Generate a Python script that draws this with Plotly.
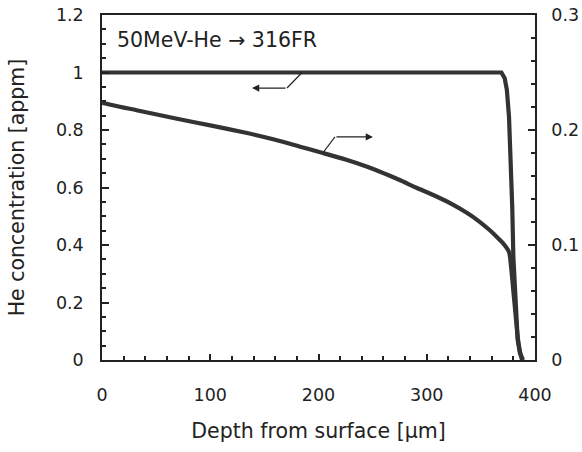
import plotly.graph_objects as go

# He concentration (left axis, appm)
depth_he = [0, 100, 200, 300, 369, 372, 374, 376, 378, 379, 380, 382, 384, 386, 389]
he_conc = [1.0, 1.0, 1.0, 1.0, 1.0, 0.98, 0.94, 0.845, 0.65, 0.53, 0.36, 0.18, 0.07, 0.025, 0.0]

# second profile (right axis)
depth_dpa = [0, 1, 33, 66, 100, 134, 160, 183, 204, 225, 245, 260, 275, 290, 306, 322, 337,
             348, 358, 365, 370, 376, 378, 380, 382, 384, 386, 388]
dpa = [0.224, 0.2235, 0.217, 0.2104, 0.204, 0.1974, 0.1915, 0.1855, 0.180, 0.1743, 0.168,
       0.1625, 0.1565, 0.150, 0.1435, 0.1362, 0.128, 0.1208, 0.113, 0.1068, 0.102, 0.094,
       0.080, 0.060, 0.040, 0.020, 0.008, 0.0]

x_ticks = [0, 100, 200, 300, 400]
y_ticks = [0, 0.2, 0.4, 0.6, 0.8, 1, 1.2]
y_tick_labels = ["0", "0.2", "0.4", "0.6", "0.8", "1", "1.2"]
y2_ticks = [0, 0.1, 0.2, 0.3]
y2_tick_labels = ["0", "0.1", "0.2", "0.3"]

FONT = "DejaVu Sans"
INK = "#222222"
LINE = "#333333"

fig = go.Figure()
fig.add_trace(go.Scatter(x=depth_he, y=he_conc, mode="lines",
                         line=dict(color=LINE, width=4.2), yaxis="y", showlegend=False))
fig.add_trace(go.Scatter(x=depth_dpa, y=dpa, mode="lines",
                         line=dict(color=LINE, width=4.2, shape="spline", smoothing=0.6),
                         yaxis="y2", showlegend=False))

fig.update_layout(
    template="none",
    width=582, height=452,
    margin=dict(l=102, r=47, t=15, b=92),
    paper_bgcolor="white", plot_bgcolor="white",
    font=dict(family=FONT, size=17.5, color=INK),
    xaxis=dict(range=[0, 400], tickmode="array", tickvals=x_ticks, ticks="inside", ticklen=6,
               tickwidth=1.5, tickcolor=INK, showline=True, linecolor=INK, linewidth=1.5,
               mirror=True, showgrid=False, zeroline=False, automargin=False,
               minor=dict(dtick=20, ticks="inside", ticklen=4, tickwidth=1.5,
                          tickcolor=INK, showgrid=False),
               title=dict(text="Depth from surface [µm]", font=dict(size=20.5), standoff=20),
               tickfont=dict(size=17.5), ticklabelstandoff=18),
    yaxis=dict(range=[0, 1.2], tickmode="array", tickvals=y_ticks, ticktext=y_tick_labels,
               ticks="inside", ticklen=7, tickwidth=1.5, tickcolor=INK, showline=True,
               linecolor=INK, linewidth=1.5, showgrid=False, zeroline=False, automargin=False,
               minor=dict(dtick=0.05, ticks="inside", ticklen=4, tickwidth=1.5,
                          tickcolor=INK, showgrid=False),
               title=dict(text="He concentration [appm]", font=dict(size=20.5), standoff=26),
               tickfont=dict(size=17.5), ticklabelstandoff=13),
    yaxis2=dict(range=[0, 0.3], overlaying="y", side="right", tickmode="array",
                tickvals=y2_ticks, ticktext=y2_tick_labels, ticks="inside", ticklen=7,
                tickwidth=1.5, tickcolor=INK, showline=True, linecolor=INK, linewidth=1.5,
                showgrid=False, zeroline=False, automargin=False,
                minor=dict(dtick=0.02, ticks="inside", ticklen=4, tickwidth=1.5,
                           tickcolor=INK, showgrid=False),
                tickfont=dict(size=17.5), ticklabelstandoff=11),
)

# title text inside plot
fig.add_annotation(x=12, y=1.112, xref="x", yref="y", text="50MeV-He → 316FR",
                   showarrow=False, xanchor="left", yanchor="middle",
                   font=dict(size=20.5, color=INK, family=FONT))

# left-pointing leader arrow (to left axis)
fig.add_shape(type="line", x0=170.9, y0=0.946, x1=184.8, y1=1.0, xref="x", yref="y",
              line=dict(color=INK, width=1.2))
fig.add_annotation(x=138.6, y=0.946, ax=170.9, ay=0.946, xref="x", yref="y",
                   axref="x", ayref="y", text="", showarrow=True, arrowhead=2,
                   arrowsize=1.2, arrowwidth=1.2, arrowcolor=INK)

# right-pointing leader arrow (to right axis)
fig.add_shape(type="line", x0=204, y0=0.72, x1=215.2, y1=0.776, xref="x", yref="y",
              line=dict(color=INK, width=1.2))
fig.add_annotation(x=250.3, y=0.776, ax=215.2, ay=0.776, xref="x", yref="y",
                   axref="x", ayref="y", text="", showarrow=True, arrowhead=2,
                   arrowsize=1.2, arrowwidth=1.2, arrowcolor=INK)

fig.write_html("out.html", config={"displayModeBar": False},
               post_script="document.body.style.margin='0';document.body.style.padding='0';")
